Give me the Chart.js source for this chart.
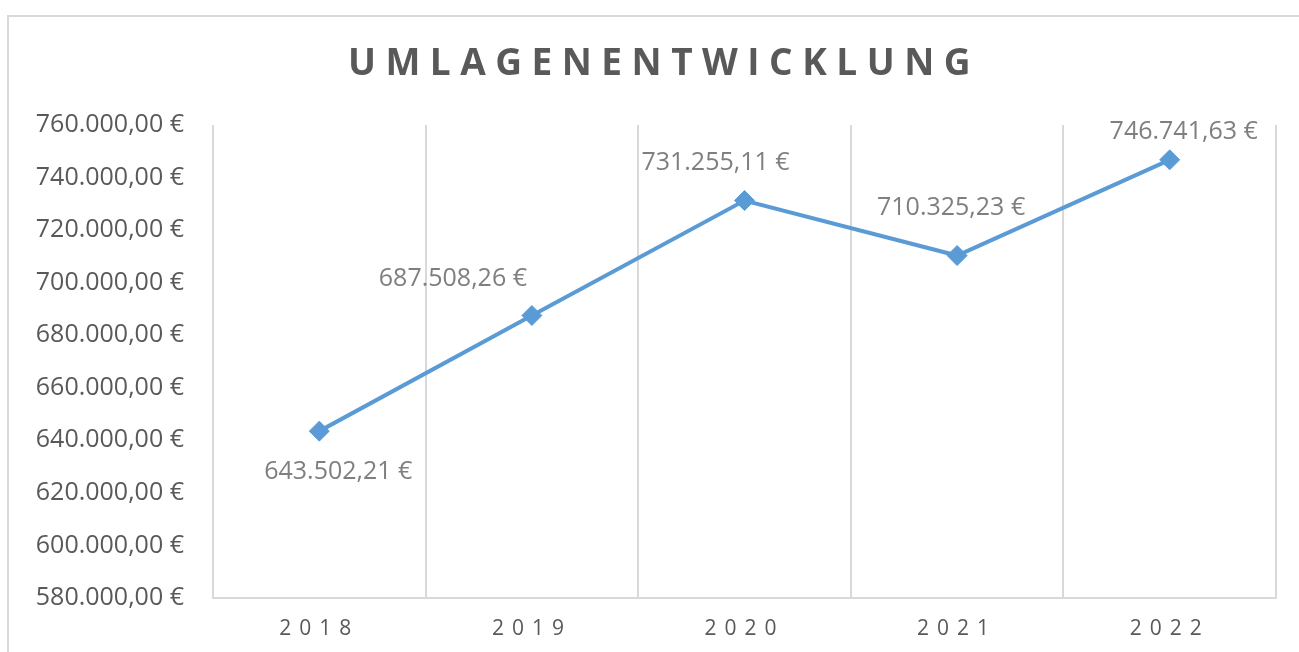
<!DOCTYPE html>
<html>
<head>
<meta charset="utf-8">
<script src="https://cdn.jsdelivr.net/npm/chart.js@4/dist/chart.umd.min.js"></script>
<style>
  html, body { margin: 0; padding: 0; background: #fff; overflow: hidden; }
  #frame { position: absolute; left: 7px; top: 15px; width: 1320px; height: 680px; border: 2px solid #d9d9d9; }
  #wrap { position: absolute; left: 0; top: 0; width: 1299px; height: 652px; }
</style>
</head>
<body>
<div id="frame"></div>
<div id="wrap"><canvas id="umlagenChart"></canvas></div>
<script>
// chart data
const years = ['2018', '2019', '2020', '2021', '2022'];
const umlagen = [643502.21, 687508.26, 731255.11, 710325.23, 746741.63];
const yMin = 580000;
const yMax = 760000;
const yStep = 20000;

// where each value label sits relative to its marker (px)
const labelShift = [[19, 41], [-79, -37], [-29, -38], [-6, -48], [14, -28]];

const FONT = '"Open Sans", Lato, sans-serif';

// 1234567.8 -> "1.234.567,80 €"
function euro(v) {
  const parts = v.toFixed(2).split('.');
  const int = parts[0].replace(/\B(?=(\d{3})+(?!\d))/g, '.');
  return int + ',' + parts[1] + ' €';
}

// title and value labels, drawn by hand
const extras = {
  id: 'extras',
  beforeDraw(chart) {
    // spaced-out year labels on the x axis
    const sx = chart.scales.x;
    if (!sx._spaced) {
      const orig = sx.drawLabels;
      sx.drawLabels = function (area) {
        this.ctx.save();
        this.ctx.letterSpacing = '8px';
        orig.call(this, area);
        this.ctx.restore();
      };
      sx._spaced = true;
    }
  },
  afterDraw(chart) {
    const ctx = chart.ctx;
    ctx.save();
    ctx.font = 'bold 37px ' + FONT;
    ctx.fillStyle = '#595959';
    ctx.letterSpacing = '9.5px';
    ctx.textAlign = 'center';
    ctx.textBaseline = 'middle';
    ctx.fillText('UMLAGENENTWICKLUNG', 664, 64);

    ctx.letterSpacing = '0px';
    ctx.font = '25px ' + FONT;
    ctx.fillStyle = '#7f7f7f';
    const meta = chart.getDatasetMeta(0);
    meta.data.forEach((pt, i) => {
      ctx.fillText(euro(umlagen[i]), pt.x + labelShift[i][0], pt.y + labelShift[i][1]);
    });
    ctx.restore();
  }
};

const ctx = document.getElementById('umlagenChart').getContext('2d');
new Chart(ctx, {
  type: 'line',
  data: {
    labels: years,
    datasets: [{
      label: 'Umlagen',
      data: umlagen,
      borderColor: '#5b9bd5',
      backgroundColor: '#5b9bd5',
      borderWidth: 4,
      pointStyle: 'rectRot',
      pointRadius: 10,
      pointBorderWidth: 1,
      pointBackgroundColor: '#5b9bd5',
      pointBorderColor: '#5b9bd5',
      tension: 0,
      fill: false
    }]
  },
  options: {
    responsive: true,
    maintainAspectRatio: false,
    animation: false,
    layout: { padding: { top: 125, right: 23, left: 0, bottom: 0 } },
    plugins: {
      legend: { display: false },
      tooltip: { enabled: false },
      title: { display: false }
    },
    scales: {
      x: {
        offset: true,
        grid: { offset: true, color: '#d9d9d9', lineWidth: 2, drawTicks: false },
        border: { color: '#d9d9d9', width: 2 },
        ticks: { color: '#595959', font: { family: FONT, size: 21 }, padding: 18 },
        afterFit(s) { s.height = 54; }
      },
      y: {
        min: yMin,
        max: yMax,
        grid: { display: false, drawTicks: false },
        border: { display: false },
        ticks: {
          stepSize: yStep,
          color: '#595959',
          font: { family: FONT, size: 25 },
          padding: 29,
          callback: v => euro(v)
        },
        afterFit(s) { s.width = 213; }
      }
    }
  },
  plugins: [extras]
});
</script>
</body>
</html>
